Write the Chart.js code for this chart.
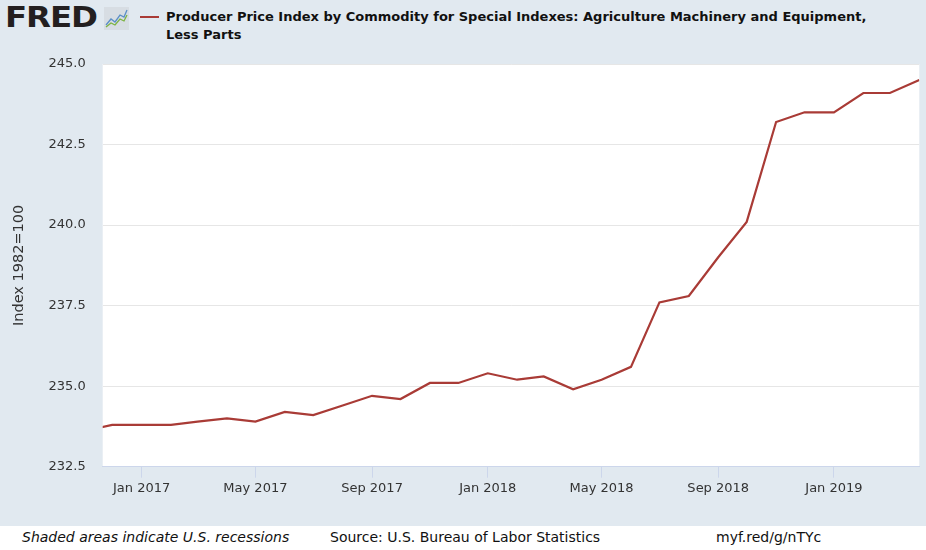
<!DOCTYPE html>
<html>
<head>
<meta charset="utf-8">
<script src="https://cdn.jsdelivr.net/npm/chart.js@4"></script>
<style>
  html, body { margin: 0; padding: 0; }
  body { width: 926px; height: 550px; background: #e1e9f0; position: relative; overflow: hidden; font-family: "DejaVu Sans", sans-serif; }
  #logo { position: absolute; left: 5px; top: 0px; font: bold 29px "DejaVu Sans", sans-serif; color: #231f20; letter-spacing: -1px; transform: scaleX(1.12); transform-origin: left top; }
  #icon { position: absolute; left: 104px; top: 7px; }
  #legline { position: absolute; left: 140px; top: 16px; width: 19px; height: 2px; background: #a93b36; }
  #title { position: absolute; left: 166px; top: 8px; font: bold 13px "DejaVu Sans", sans-serif; line-height: 18px; color: #111; }
  #footer { position: absolute; left: 0; top: 526px; width: 926px; height: 24px; background: #fff; font: 14px "DejaVu Sans", sans-serif; color: #111; }
  #footer span { position: absolute; top: 3px; white-space: nowrap; }
  canvas { position: absolute; left: 0; top: 0; }
</style>
</head>
<body>
<div id="logo">FRED</div>
<svg id="icon" width="25" height="23" viewBox="0 0 25 23">
  <rect x="0" y="0" width="25" height="23" fill="#d7dde3"/>
  <polyline points="2,18 7,12 11,15 16,8 20,10 23,3" fill="none" stroke="#5b8fc7" stroke-width="1.3"/>
  <polyline points="2,20 7,16 11,18 16,12 20,14 23,8" fill="none" stroke="#7cb342" stroke-width="1.3"/>
</svg>
<div id="legline"></div>
<div id="title">Producer Price Index by Commodity for Special Indexes: Agriculture Machinery and Equipment,<br>Less Parts</div>
<canvas id="chart" width="926" height="527"></canvas>
<div id="footer">
  <span style="left:22px;font-style:italic">Shaded areas indicate U.S. recessions</span>
  <span style="left:330px">Source: U.S. Bureau of Labor Statistics</span>
  <span style="left:716px">myf.red/g/nTYc</span>
</div>
<script>
// monthly observations
var months = ["2016-11-01","2016-12-01","2017-01-01","2017-02-01","2017-03-01","2017-04-01",
	"2017-05-01","2017-06-01","2017-07-01","2017-08-01","2017-09-01","2017-10-01",
	"2017-11-01","2017-12-01","2018-01-01","2018-02-01","2018-03-01","2018-04-01",
	"2018-05-01","2018-06-01","2018-07-01","2018-08-01","2018-09-01","2018-10-01",
	"2018-11-01","2018-12-01","2019-01-01","2019-02-01","2019-03-01","2019-04-01"];
var values = [233.6, 233.8, 233.8, 233.8, 233.9, 234.0,
	233.9, 234.2, 234.1, 234.4, 234.7, 234.6,
	235.1, 235.1, 235.4, 235.2, 235.3, 234.9,
	235.2, 235.6, 237.6, 237.8, 239.0, 240.1,
	243.2, 243.5, 243.5, 244.1, 244.1, 244.5];

// x axis ticks
var tickDates = ["2017-01-01","2017-05-01","2017-09-01","2018-01-01","2018-05-01","2018-09-01","2019-01-01"];
var tickLabels = ["Jan 2017","May 2017","Sep 2017","Jan 2018","May 2018","Sep 2018","Jan 2019"];
var xStart = "2016-11-21", xEnd = "2019-04-01";

var points = [];
for( var i = 0; i < months.length; i++ ){
	points.push( { x: Date.parse( months[i] ), y: values[i] } );
}
var tickValues = tickDates.map( function(d){ return Date.parse(d); } );

//white plot area
var plotBg = {
	id: "plotBg",
	beforeDraw: function(chart){
		var a = chart.chartArea, ctx = chart.ctx;
		ctx.save();
		ctx.fillStyle = "#ffffff";
		ctx.fillRect( a.left, a.top, a.right - a.left, a.bottom - a.top );
		ctx.restore();
	}
};

var ctx = document.getElementById("chart").getContext("2d");
new Chart( ctx, {
	type: "line",
	data: {
		datasets: [{
			data: points,
			borderColor: "#a93b36",
			borderWidth: 2.2,
			pointRadius: 0,
			tension: 0,
			fill: false
		}]
	},
	options: {
		responsive: false,
		animation: false,
		layout: { padding: { top: 64, right: 6.7, bottom: 20.3, left: 0 } },
		plugins: { legend: { display: false }, tooltip: { enabled: false } },
		scales: {
			x: {
				type: "linear",
				min: Date.parse( xStart ),
				max: Date.parse( xEnd ),
				afterBuildTicks: function(scale){
					scale.ticks = tickValues.map( function(v){ return { value: v }; } );
				},
				afterFit: function(scale){ scale.height = 40; },
				grid: { drawOnChartArea: false, drawTicks: true, tickLength: 11, color: "#ccd6eb" },
				border: { color: "#ccd6eb" },
				ticks: {
					maxRotation: 0,
					autoSkip: false,
					padding: 3,
					color: "#333333",
					font: { family: "DejaVu Sans", size: 13 },
					callback: function(value){
						var k = tickValues.indexOf( value );
						return k >= 0 ? tickLabels[k] : "";
					}
				}
			},
			y: {
				min: 232.5,
				max: 245,
				afterFit: function(scale){ scale.width = 102.7; },
				grid: { color: "#e6e6e6", drawTicks: false },
				border: { display: false },
				ticks: {
					stepSize: 2.5,
					padding: 17,
					color: "#333333",
					font: { family: "DejaVu Sans", size: 13 },
					callback: function(value){ return value.toFixed(1); }
				},
				title: {
					display: true,
					text: "Index 1982=100",
					color: "#333333",
					font: { family: "DejaVu Sans", size: 14.5 },
					padding: { top: 11, bottom: 0 }
				}
			}
		}
	},
	plugins: [ plotBg ]
});
</script>
</body>
</html>
